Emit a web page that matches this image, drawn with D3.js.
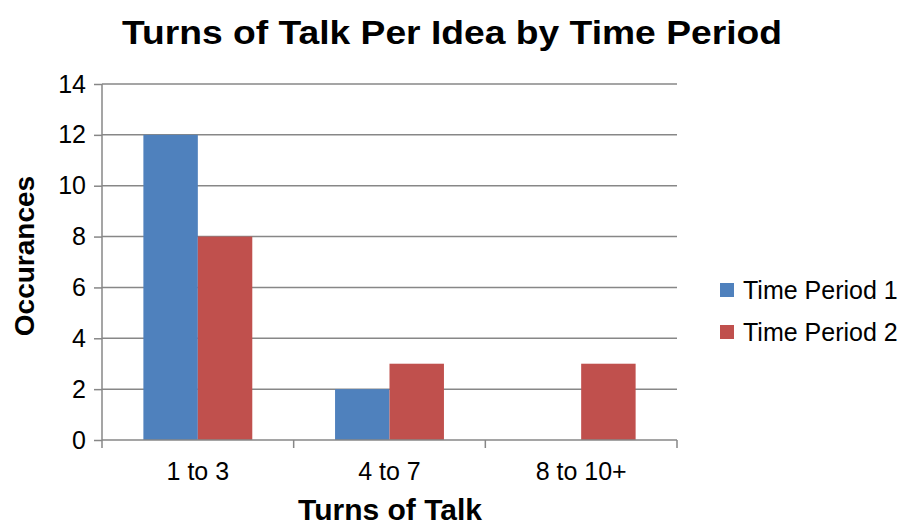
<!DOCTYPE html>
<html>
<head>
<meta charset="utf-8">
<script src="https://cdn.jsdelivr.net/npm/d3@7"></script>
<style>
  body { margin: 0; background: #fff; }
  svg { display: block; font-family: "Liberation Sans", Arial, sans-serif; }
</style>
</head>
<body>
<svg id="chart" width="905" height="527"></svg>
<script>
// Chart data
const categories = ["1 to 3", "4 to 7", "8 to 10+"];
const seriesNames = ["Time Period 1", "Time Period 2"];
const period1 = [12, 2, 0];
const period2 = [8, 3, 3];
const yTicks = [0, 2, 4, 6, 8, 10, 12, 14];
const colors = ["#4F81BD", "#C0504D"];

const svg = d3.select("#chart");
const plot = { left: 102, right: 677, top: 84, bottom: 440 };
const gridColor = "#878787";
const labelFont = "'Liberation Sans', Arial, sans-serif";

const x = d3.scaleBand().domain(categories).range([plot.left, plot.right]).paddingInner(0).paddingOuter(0);
const inner = d3.scaleBand().domain(seriesNames).range([0, x.bandwidth()]).paddingInner(0).paddingOuter(0.76);
const y = d3.scaleLinear().domain([0, 14]).range([plot.bottom, plot.top]);

// Horizontal gridlines
svg.append("g").selectAll("line").data(yTicks.filter(d => d > 0)).join("line")
  .attr("x1", plot.left).attr("x2", plot.right)
  .attr("y1", d => y(d)).attr("y2", d => y(d))
  .attr("stroke", gridColor).attr("stroke-width", 1.5);

// Bars
const rows = categories.map((c, i) => ({ cat: c, values: [period1[i], period2[i]] }));
const groups = svg.append("g").selectAll("g").data(rows).join("g")
  .attr("transform", d => `translate(${x(d.cat)},0)`);
groups.selectAll("rect").data(d => d.values.map((v, j) => ({ name: seriesNames[j], v, j })))
  .join("rect")
  .attr("x", d => inner(d.name))
  .attr("width", inner.bandwidth())
  .attr("y", d => y(d.v))
  .attr("height", d => y(0) - y(d.v))
  .attr("fill", d => colors[d.j]);

// Y axis
const yAxis = d3.axisLeft(y).tickValues(yTicks).tickSize(8).tickPadding(8).tickFormat(d3.format("d"));
const gy = svg.append("g").attr("transform", `translate(${plot.left},0)`).call(yAxis);
gy.select(".domain").attr("stroke", gridColor).attr("stroke-width", 1.5).attr("d", `M0,${plot.top}V${plot.bottom}`);
gy.selectAll(".tick line").attr("stroke", gridColor).attr("stroke-width", 1.5);
gy.selectAll(".tick text").attr("font-size", 25).attr("fill", "#000").attr("font-family", labelFont);

// X axis: ticks at category boundaries
const xAxis = d3.axisBottom(x).tickSize(0).tickPadding(22);
const gx = svg.append("g").attr("transform", `translate(0,${plot.bottom})`).call(xAxis);
gx.select(".domain").attr("stroke", gridColor).attr("stroke-width", 1.5).attr("d", `M${plot.left},0H${plot.right}`);
gx.selectAll(".tick text").attr("font-size", 25).attr("fill", "#000").attr("font-family", labelFont);
const boundaries = categories.map(c => x(c)).concat([x(categories[categories.length - 1]) + x.bandwidth()]);
gx.append("g").selectAll("line").data(boundaries).join("line")
  .attr("x1", d => d).attr("x2", d => d).attr("y1", 0).attr("y2", 8)
  .attr("stroke", gridColor).attr("stroke-width", 1.5);

// Title
svg.append("text").attr("x", 452).attr("y", 44).attr("text-anchor", "middle")
  .attr("font-size", 34).attr("font-weight", "bold")
  .attr("textLength", 660).attr("lengthAdjust", "spacingAndGlyphs")
  .text("Turns of Talk Per Idea by Time Period");

// Axis titles
svg.append("text").attr("x", 390).attr("y", 520).attr("text-anchor", "middle")
  .attr("font-size", 30).attr("font-weight", "bold").text("Turns of Talk");
svg.append("text").attr("transform", "translate(34,256) rotate(-90)").attr("text-anchor", "middle")
  .attr("font-size", 28).attr("font-weight", "bold").text("Occurances");

// Legend
const legend = svg.append("g").selectAll("g").data(seriesNames).join("g")
  .attr("transform", (d, i) => `translate(720,${283 + i * 42})`);
legend.append("rect").attr("width", 14).attr("height", 14).attr("fill", (d, i) => colors[i]);
legend.append("text").attr("x", 23).attr("y", 16).attr("font-size", 25).text(d => d);
</script>
</body>
</html>
